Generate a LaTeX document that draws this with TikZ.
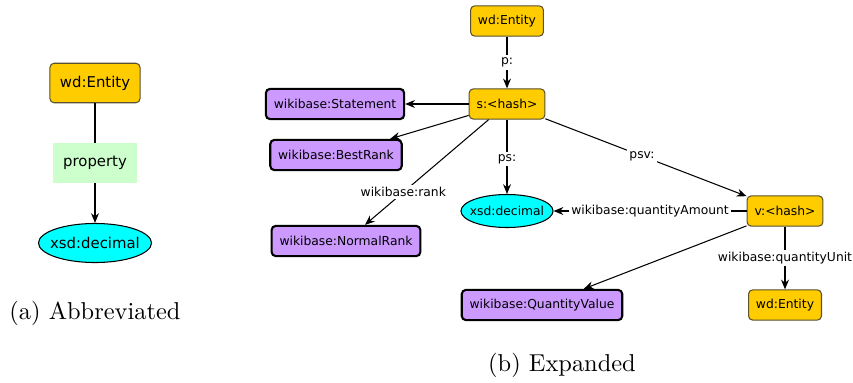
\documentclass[tikz,border=0pt]{standalone}
\usepackage{fontspec}
\newfontfamily\grafo{DejaVu Sans}
\usetikzlibrary{shapes.geometric,arrows.meta}

\definecolor{arancio}{HTML}{FFCC00}
\definecolor{viola}{HTML}{CC99FF}
\definecolor{ciano}{HTML}{00FFFF}
\definecolor{verdino}{HTML}{CCFFCC}
\definecolor{bordo}{HTML}{5A5030}

\begin{document}
\begin{tikzpicture}[x=0.43pt, y=-0.43pt, line width=0.45pt,
    risorsa/.style={draw=bordo, fill=arancio, rounded corners=1.8pt, minimum height=13pt,
                    inner xsep=3.2pt, font=\grafo\fontsize{5.3}{6}\selectfont},
    classe/.style={draw=black, line width=0.9pt, fill=viola, rounded corners=1.8pt, minimum height=13pt,
                   inner xsep=3.4pt, font=\grafo\fontsize{5.3}{6}\selectfont},
    letterale/.style={ellipse, draw, fill=ciano, inner sep=0pt, font=\grafo\fontsize{5.3}{6}\selectfont},
    etichetta/.style={fill=white, inner sep=1pt, font=\grafo\fontsize{5.3}{6}\selectfont},
    freccia/.style={-{Stealth[length=4.2pt, width=3.4pt]}},
    didascalia/.style={font=\fontsize{10.5}{12}\selectfont}
  ]

    \useasboundingbox (0,0) rectangle (853,383);

    % -- Parte Sinistra: forma abbreviata --
    \node[risorsa, minimum height=17pt, inner xsep=4.3pt, font=\grafo\fontsize{6.4}{8}\selectfont] (entA) at (95,83) {wd:Entity};
    \node[letterale, minimum width=48.6pt, minimum height=16.8pt, font=\grafo\fontsize{6.4}{8}\selectfont] (decA) at (95,243) {\makebox[20pt]{xsd:decimal}};

    \draw[freccia] (entA) -- node[fill=verdino, minimum width=36pt, minimum height=17pt, font=\grafo\fontsize{6.4}{8}\selectfont] {property} (decA);

    \node[didascalia] (capA) at (95,313) {(a) Abbreviated};

    % -- Parte Destra: forma espansa --
    \node[risorsa] (entB) at (507,21) {wd:Entity};
    \node[risorsa] (stmt) at (507,104) {s:<hash>};
    \node[classe] (tipo) at (335,104) {wikibase:Statement};
    \node[classe] (best) at (336,155) {wikibase:BestRank};
    \node[classe] (normale) at (346,241) {wikibase:NormalRank};
    \node[letterale, minimum width=39.6pt, minimum height=14.2pt] (decB) at (507,211) {\makebox[15pt]{xsd:decimal}};
    \node[risorsa] (valore) at (785,211) {v:<hash>};
    \node[classe] (qv) at (542,305) {wikibase:QuantityValue};
    \node[risorsa] (unita) at (785,305) {wd:Entity};

    % archi del nodo s:
    \draw[freccia] (entB) -- node[etichetta] {p:} (stmt);
    \draw[freccia] (stmt) -- (tipo);
    \draw[freccia] (stmt) -- (best);
    \draw[freccia] (stmt) -- node[etichetta, pos=0.69] {wikibase:rank} (normale);
    \draw[freccia] (stmt) -- node[etichetta, pos=0.53] {ps:} (decB);
    \draw[freccia] (stmt) -- node[etichetta, pos=0.48] {psv:} (valore);

    % archi del nodo v:
    \draw[freccia] (valore) -- node[etichetta] {wikibase:quantityAmount} (decB);
    \draw[freccia] (valore) -- (qv);
    \draw[freccia] (valore) -- node[etichetta] {wikibase:quantityUnit} (unita);

    \node[didascalia] (capB) at (562,365) {(b) Expanded};

\end{tikzpicture}
\end{document}
